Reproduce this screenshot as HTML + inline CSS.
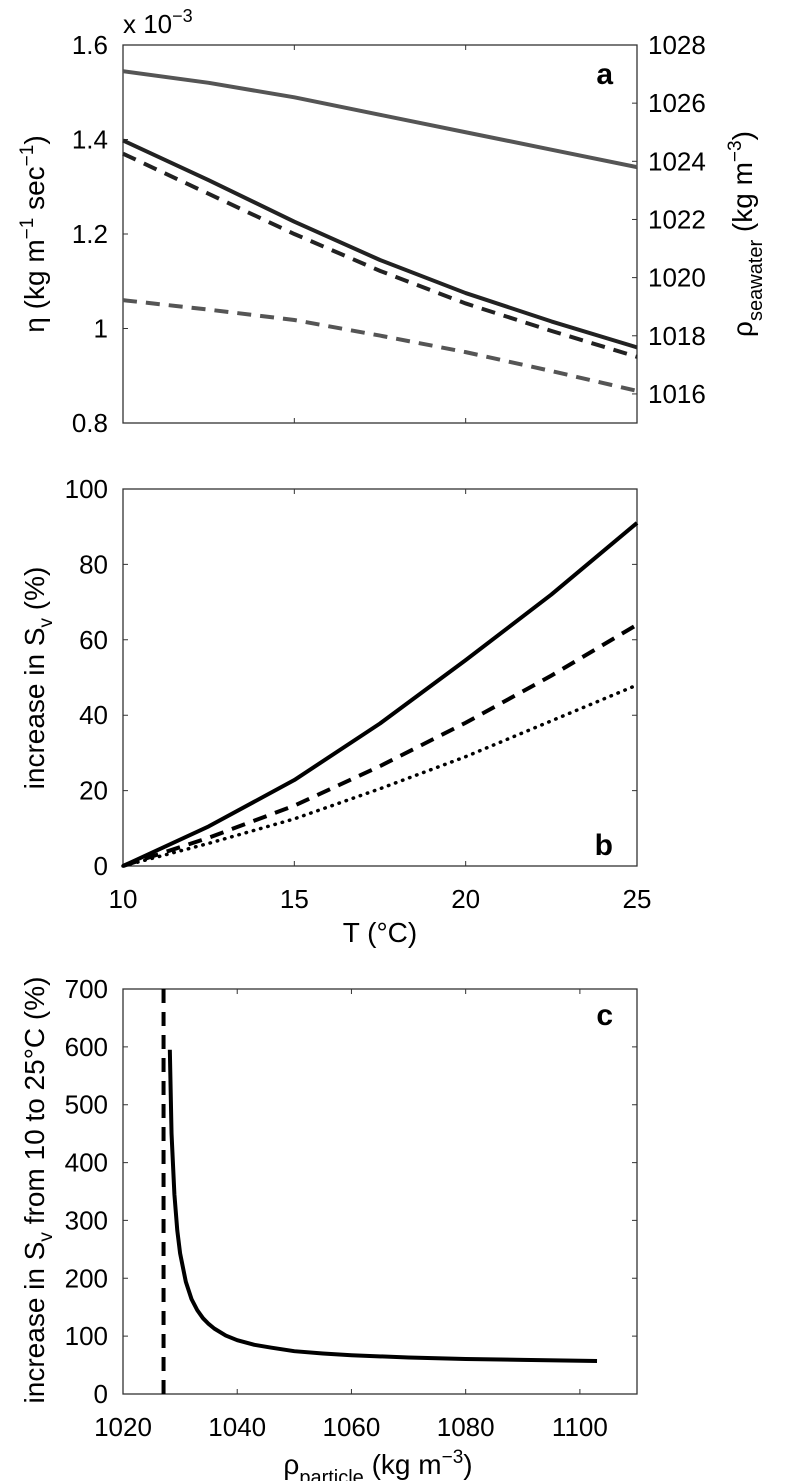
<!DOCTYPE html>
<html><head><meta charset="utf-8"><style>
body{margin:0;background:#fff}
svg{display:block;font-family:"Liberation Sans",Arial,sans-serif}
</style></head><body>
<svg id="chart" width="786" height="1481" viewBox="0 0 786 1481" xmlns="http://www.w3.org/2000/svg">
<g id="pa"></g>
<g id="pb"></g>
<g id="pc"></g>
</svg>
<script>
// Panel a data
const aT = [10, 12.5, 15, 17.5, 20, 22.5, 25];
const aEtaSolid = [1.398, 1.314, 1.226, 1.145, 1.075, 1.015, 0.96];
const aEtaDashed = [1.37, 1.285, 1.2, 1.122, 1.053, 0.995, 0.94];
const aGrayDashed = [1.06, 1.04, 1.018, 0.985, 0.95, 0.91, 0.868];
const aRhoSeawater = [1027.1, 1026.7, 1026.2, 1025.6, 1025.0, 1024.4, 1023.8];
const aLeftTicks = [0.8, 1, 1.2, 1.4, 1.6];
const aLeftTickLabels = ["0.8", "1", "1.2", "1.4", "1.6"];
const aRightTicks = [1016, 1018, 1020, 1022, 1024, 1026, 1028];
// Panel b data
const bT = [10, 12.5, 15, 17.5, 20, 22.5, 25];
const bSolid = [0, 10.5, 22.8, 37.8, 54.6, 72, 91];
const bDashed = [0, 7.5, 16, 26.5, 38, 50.5, 64];
const bDotted = [0, 6, 12.5, 20.5, 29, 38.5, 48];
const bXTicks = [10, 15, 20, 25];
const bYTicks = [0, 20, 40, 60, 80, 100];
// Panel c data
const cRho = [1028.2, 1028.5, 1029, 1029.5, 1030, 1031, 1032, 1033, 1034, 1035, 1036, 1038, 1040, 1043, 1046, 1050, 1055, 1060, 1070, 1080, 1090, 1103];
const cInc = [595, 450, 345, 283, 243, 194, 164, 145, 131, 121, 113, 101, 93, 85, 80, 74, 70, 67, 63, 60.6, 59, 57];
const cRhoSeawater = [1027.1];
const cXTicks = [1020, 1040, 1060, 1080, 1100];
const cYTicks = [0, 100, 200, 300, 400, 500, 600, 700];

const NS = "http://www.w3.org/2000/svg";
function mk(parent, tag, attrs, text){
  const e = document.createElementNS(NS, tag);
  for (const k in attrs) e.setAttribute(k, attrs[k]);
  if (text !== undefined) e.textContent = text;
  parent.appendChild(e); return e;
}
function lin(d0,d1,r0,r1){return v=>r0+(v-d0)*(r1-r0)/(d1-d0);}
function pathD(xs,ys,fx,fy){return xs.map((v,i)=>(i?"L":"M")+fx(v).toFixed(2)+","+fy(ys[i]).toFixed(2)).join(" ");}

const L=123,R=637,FS=26,TS=28;
// ---------- Panel a
const pa=document.getElementById('pa');
const aX=lin(10,25,L,R), aY=lin(0.8,1.6,423,45), aY2=lin(1015,1028,423,45);
let r=mk(pa,'rect',{x:L,y:45,width:R-L,height:378,fill:'none',stroke:'#333','stroke-width':1.3});
 
bXTicks.forEach(t=>{
  let e=mk(pa,'path',{d:`M${aX(t)},423v-5M${aX(t)},45v5`,stroke:'#333','stroke-width':1});
   
});
aLeftTicks.forEach((t,i)=>{
  let e=mk(pa,'path',{d:`M${L},${aY(t)}h5`,stroke:'#333'});
   
  let tx=mk(pa,'text',{x:108,y:aY(t)+9,'font-size':FS,'text-anchor':'end'},aLeftTickLabels[i]);
   
});
aRightTicks.forEach(t=>{
  let e=mk(pa,'path',{d:`M${R},${aY2(t)}h-5`,stroke:'#333'});
   
  let tx=mk(pa,'text',{x:648,y:aY2(t)+9,'font-size':FS},String(t));
   
});
let s;
s=mk(pa,'path',{d:pathD(aT,aRhoSeawater,aX,aY2),fill:'none',stroke:'#555','stroke-width':4,'stroke-linejoin':'round'});
 
s=mk(pa,'path',{d:pathD(aT,aGrayDashed,aX,aY),fill:'none',stroke:'#555','stroke-width':4,'stroke-dasharray':'14,9'});
 
s=mk(pa,'path',{d:pathD(aT,aEtaSolid,aX,aY),fill:'none',stroke:'#222','stroke-width':4,'stroke-linejoin':'round'});
 
s=mk(pa,'path',{d:pathD(aT,aEtaDashed,aX,aY),fill:'none',stroke:'#222','stroke-width':4,'stroke-dasharray':'14,9'});
 
let t;
t=mk(pa,'text',{x:123,y:33,'font-size':FS},'x 10');
 
mk(t,'tspan',{dy:-11,'font-size':18},'−3');
t=mk(pa,'text',{x:613,y:84,'font-size':30,'font-weight':'bold','text-anchor':'end'},'a');
 
t=mk(pa,'text',{transform:'translate(44,234) rotate(-90)','font-size':TS,'text-anchor':'middle'},'η (kg m');
 
mk(t,'tspan',{dy:-11,'font-size':19},'−1'); mk(t,'tspan',{dy:11},' sec'); mk(t,'tspan',{dy:-11,'font-size':19},'−1'); mk(t,'tspan',{dy:11},')');
t=mk(pa,'text',{transform:'translate(752,234) rotate(-90)','font-size':TS,'text-anchor':'middle'},'ρ');
 
mk(t,'tspan',{dy:10,'font-size':20},'seawater'); mk(t,'tspan',{dy:-10},' (kg m'); mk(t,'tspan',{dy:-11,'font-size':19},'−3'); mk(t,'tspan',{dy:11},')');

// ---------- Panel b
const pb=document.getElementById('pb');
const bX=lin(10,25,L,R), bY=lin(0,100,866,489);
r=mk(pb,'rect',{x:L,y:489,width:R-L,height:377,fill:'none',stroke:'#333','stroke-width':1.3});
 
bXTicks.forEach(v=>{
  let e=mk(pb,'path',{d:`M${bX(v)},866v-5M${bX(v)},489v5`,stroke:'#333'});
   
  let tx=mk(pb,'text',{x:bX(v),y:908,'font-size':FS,'text-anchor':'middle'},String(v));
   
});
bYTicks.forEach(v=>{
  let e=mk(pb,'path',{d:`M${L},${bY(v)}h5M${R},${bY(v)}h-5`,stroke:'#333'});
   
  let tx=mk(pb,'text',{x:108,y:bY(v)+9,'font-size':FS,'text-anchor':'end'},String(v));
   
});
s=mk(pb,'path',{d:pathD(bT,bDotted,bX,bY),fill:'none',stroke:'#000','stroke-width':3.5,'stroke-dasharray':'0.5,7','stroke-linecap':'round'});
 
s=mk(pb,'path',{d:pathD(bT,bDashed,bX,bY),fill:'none',stroke:'#000','stroke-width':4,'stroke-dasharray':'14,9'});
 
s=mk(pb,'path',{d:pathD(bT,bSolid,bX,bY),fill:'none',stroke:'#000','stroke-width':4,'stroke-linejoin':'round'});
 
t=mk(pb,'text',{x:613,y:855,'font-size':30,'font-weight':'bold','text-anchor':'end'},'b');
 
t=mk(pb,'text',{x:380,y:942,'font-size':TS,'text-anchor':'middle'},'T (°C)');
 
t=mk(pb,'text',{transform:'translate(44,678) rotate(-90)','font-size':TS,'text-anchor':'middle'},'increase in S');
 
mk(t,'tspan',{dy:8,'font-size':19},'v'); mk(t,'tspan',{dy:-8},' (%)');

// ---------- Panel c
const pc=document.getElementById('pc');
const cX=lin(1020,1110,L,R), cY=lin(0,700,1394,989);
r=mk(pc,'rect',{x:L,y:989,width:R-L,height:405,fill:'none',stroke:'#333','stroke-width':1.3});
 
cXTicks.forEach(v=>{
  let e=mk(pc,'path',{d:`M${cX(v)},1394v-5M${cX(v)},989v5`,stroke:'#333'});
   
  let tx=mk(pc,'text',{x:cX(v),y:1436,'font-size':FS,'text-anchor':'middle'},String(v));
   
});
cYTicks.forEach(v=>{
  let e=mk(pc,'path',{d:`M${L},${cY(v)}h5M${R},${cY(v)}h-5`,stroke:'#333'});
   
  let tx=mk(pc,'text',{x:108,y:cY(v)+9,'font-size':FS,'text-anchor':'end'},String(v));
   
});
s=mk(pc,'path',{d:`M${cX(cRhoSeawater[0])},${cY(0)}V${cY(700)}`,fill:'none',stroke:'#000','stroke-width':4,'stroke-dasharray':'14,9'});
 
s=mk(pc,'path',{d:pathD(cRho,cInc,cX,cY),fill:'none',stroke:'#000','stroke-width':4,'stroke-linejoin':'round'});
 
t=mk(pc,'text',{x:613,y:1025,'font-size':30,'font-weight':'bold','text-anchor':'end'},'c');
 
t=mk(pc,'text',{x:378,y:1474,'font-size':TS,'text-anchor':'middle'},'ρ');
 
mk(t,'tspan',{dy:10,'font-size':20},'particle'); mk(t,'tspan',{dy:-10},' (kg m'); mk(t,'tspan',{dy:-11,'font-size':19},'−3'); mk(t,'tspan',{dy:11},')');
t=mk(pc,'text',{transform:'translate(44,1190) rotate(-90)','font-size':TS,'text-anchor':'middle'},'increase in S');
 
mk(t,'tspan',{dy:8,'font-size':19},'v'); mk(t,'tspan',{dy:-8},' from 10 to 25°C (%)');
</script>
</body></html>
